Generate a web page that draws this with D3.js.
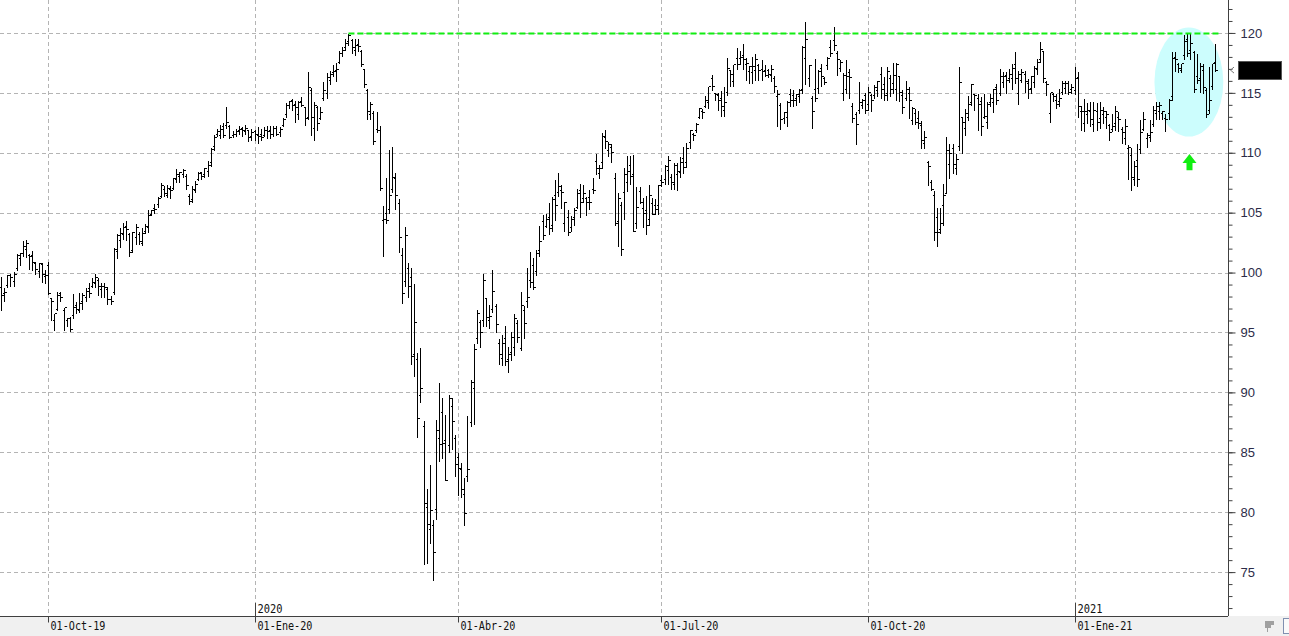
<!DOCTYPE html>
<html>
<head>
<meta charset="utf-8">
<script src="https://cdn.jsdelivr.net/npm/d3@7"></script>
<style>
  html, body { margin: 0; padding: 0; background: #fff; }
  svg { display: block; }
</style>
</head>
<body>
<div id="chart"></div>
<script>
// daily OHLC bars, one per weekday, first bar on 10-Sep-2019
var firstDay = "2019-09-10";

var opens = [
  98.8, 98.3, 99.0, 99.8, 99.3, 100.4, 101.2, 101.6, 102.0, 101.5,
  101.5, 100.8, 100.1, 100.7, 99.7, 100.6, 97.9, 96.0, 97.0, 98.3,
  96.9, 96.0, 96.2, 96.5, 97.3, 96.9, 97.6, 98.0, 98.7, 98.9,
  99.1, 99.4, 98.6, 98.9, 98.6, 97.8, 98.4, 101.8, 102.7, 103.2,
  103.9, 103.2, 101.9, 103.0, 103.2, 102.5, 103.5, 103.8, 104.9, 105.4,
  105.7, 106.4, 107.0, 106.5, 107.0, 107.1, 107.8, 108.1, 108.2, 108.1,
  106.4, 106.1, 106.9, 107.8, 108.4, 108.2, 108.5, 109.2, 110.6, 111.6,
  111.5, 112.2, 112.3, 112.2, 111.5, 111.6, 111.9, 112.1, 111.8, 111.9,
  111.4, 111.8, 111.5, 111.6, 111.5, 111.9, 111.9, 111.6, 112.1, 111.7,
  112.3, 113.2, 114.0, 114.4, 114.1, 113.2, 114.3, 113.8, 113.0, 115.2,
  112.1, 113.8, 112.9, 114.6, 115.0, 116.1, 116.7, 116.9, 117.6, 118.3,
  118.8, 119.3, 119.4, 118.6, 119.1, 118.5, 117.0, 115.2, 113.2, 113.3,
  112.0, 111.9, 104.4, 105.0, 105.3, 107.0, 107.9, 105.8, 101.5, 99.3,
  100.4, 99.6, 93.2, 92.8, 89.8, 87.2, 80.4, 78.6, 78.9, 80.3,
  86.2, 88.4, 86.0, 85.6, 88.9, 86.2, 84.6, 83.6, 81.5, 83.0,
  87.5, 90.4, 94.5, 95.9, 96.0, 97.9, 96.0, 97.0, 97.2, 94.1,
  92.9, 94.5, 92.8, 93.4, 93.8, 95.8, 93.7, 96.9, 97.6, 99.4,
  100.6, 100.1, 101.9, 104.3, 103.9, 104.6, 104.0, 106.5, 106.7, 106.9,
  104.1, 104.6, 103.8, 104.6, 105.5, 106.9, 106.2, 106.2, 106.3, 107.0,
  109.3, 108.3, 109.2, 111.3, 110.2, 110.5, 107.9, 104.3, 105.6, 106.7,
  107.6, 109.0, 108.2, 104.1, 106.8, 105.4, 105.2, 104.5, 105.8, 105.6,
  105.6, 107.7, 107.8, 108.6, 108.0, 107.4, 108.2, 108.4, 109.6, 109.2,
  110.9, 111.6, 111.9, 113.0, 113.5, 113.9, 114.2, 116.2, 115.0, 114.8,
  114.6, 113.6, 115.1, 116.9, 116.0, 117.9, 117.9, 118.2, 117.4, 116.8,
  116.7, 116.9, 117.3, 117.0, 116.9, 116.9, 116.5, 116.2, 114.7, 114.0,
  112.9, 113.0, 114.9, 114.8, 114.6, 114.7, 115.3, 117.9, 116.2, 114.6,
  115.3, 115.4, 117.1, 116.2, 117.3, 118.8, 119.4, 118.3, 117.1, 115.0,
  115.3, 116.7, 113.9, 113.2, 113.6, 114.0, 114.8, 114.1, 114.8, 114.8,
  115.2, 116.6, 115.7, 115.0, 116.2, 115.8, 115.3, 116.4, 114.8, 114.6,
  115.0, 112.7, 113.3, 112.9, 112.3, 110.8, 109.2, 107.6, 106.5, 104.6,
  103.6, 105.6, 106.6, 109.1, 110.4, 108.7, 110.6, 113.0, 112.1, 113.0,
  114.2, 114.9, 114.6, 114.3, 113.0, 112.6, 114.2, 114.2, 115.5, 115.0,
  115.9, 116.5, 116.2, 116.2, 117.4, 115.0, 116.1, 116.6, 115.8, 115.4,
  115.9, 117.0, 117.8, 118.5, 115.9, 113.3, 114.9, 114.4, 114.3, 115.1,
  115.4, 115.8, 115.3, 115.2, 116.3, 113.5, 112.5, 113.2, 113.5, 112.4,
  113.5, 112.9, 113.2, 113.0, 112.3, 112.0, 112.5, 113.0, 112.0, 111.2,
  110.4, 109.8, 107.8, 109.4, 110.3, 112.0, 111.2, 111.3, 112.4, 113.3,
  113.5, 113.3, 112.9, 113.3, 114.7, 118.0, 117.4, 116.9, 118.2, 119.5,
  118.6, 118.4, 116.4, 116.2, 116.9, 115.2, 113.6, 115.6, 117.6
];

var highs = [
  99.7, 98.8, 99.9, 100.0, 100.1, 101.6, 101.7, 102.7, 102.8, 101.6,
  101.9, 101.0, 100.9, 100.9, 100.3, 101.0, 98.0, 96.6, 98.5, 98.5,
  97.1, 96.3, 96.4, 98.3, 97.6, 98.4, 98.4, 98.8, 99.2, 99.6,
  100.0, 99.6, 99.2, 99.2, 98.9, 98.1, 102.1, 103.3, 103.8, 104.2,
  104.4, 103.4, 103.5, 104.1, 103.5, 103.8, 104.1, 105.3, 105.3, 105.8,
  106.4, 107.6, 107.3, 107.4, 107.3, 108.0, 108.7, 108.5, 108.7, 108.3,
  106.6, 107.3, 107.7, 108.5, 108.5, 108.8, 109.4, 110.5, 111.6, 112.1,
  112.4, 112.6, 113.9, 112.4, 111.9, 112.1, 112.3, 112.2, 112.4, 112.0,
  112.1, 112.0, 112.2, 112.1, 112.2, 112.3, 112.3, 112.3, 112.3, 112.2,
  113.0, 114.2, 114.4, 114.6, 114.4, 114.4, 114.7, 113.9, 116.8, 115.5,
  114.3, 114.0, 113.9, 116.0, 116.7, 116.9, 117.4, 117.6, 118.6, 118.9,
  119.6, 120.0, 119.6, 119.6, 119.6, 118.7, 117.1, 115.4, 114.3, 113.6,
  113.5, 112.3, 105.6, 108.0, 110.3, 110.6, 108.4, 106.2, 102.1, 103.9,
  100.9, 100.5, 99.1, 93.4, 93.8, 87.7, 82.0, 84.0, 79.4, 87.8,
  90.9, 89.6, 88.2, 89.9, 89.6, 86.5, 85.0, 84.2, 82.9, 88.1,
  91.1, 94.1, 97.0, 96.1, 100.0, 98.0, 97.4, 100.3, 97.5, 94.5,
  94.9, 95.6, 93.9, 95.1, 96.6, 96.1, 98.5, 97.3, 100.5, 101.8,
  101.3, 102.0, 104.0, 104.9, 105.0, 105.9, 106.4, 107.8, 108.4, 107.4,
  106.0, 105.3, 104.8, 105.5, 107.1, 107.5, 107.4, 106.4, 107.0, 108.0,
  110.0, 109.1, 111.7, 112.0, 111.0, 110.8, 108.4, 106.7, 106.0, 108.8,
  109.8, 109.8, 109.9, 107.2, 107.2, 106.3, 106.5, 107.4, 106.3, 106.2,
  107.4, 108.2, 109.1, 109.8, 108.3, 109.2, 109.2, 109.7, 110.6, 110.9,
  112.0, 111.7, 112.6, 113.8, 113.7, 114.8, 115.6, 116.6, 115.1, 115.1,
  115.2, 115.6, 118.0, 117.0, 117.4, 118.8, 118.6, 119.2, 118.0, 117.3,
  118.1, 118.3, 117.5, 117.8, 117.4, 117.1, 117.4, 116.5, 115.3, 114.2,
  113.5, 114.4, 115.4, 115.3, 115.0, 115.4, 119.0, 121.0, 117.4, 114.8,
  117.9, 117.0, 117.5, 116.4, 118.1, 119.5, 120.6, 118.6, 117.8, 116.7,
  117.8, 117.1, 114.2, 113.5, 116.0, 114.6, 115.1, 115.6, 115.0, 115.7,
  116.1, 117.2, 116.4, 117.2, 116.6, 117.6, 117.6, 116.4, 115.3, 116.1,
  115.6, 113.9, 113.7, 113.6, 112.7, 111.9, 109.4, 107.8, 106.9, 105.5,
  105.5, 107.5, 111.4, 110.8, 110.8, 110.0, 117.2, 113.0, 113.7, 114.8,
  115.8, 115.0, 115.0, 114.7, 115.0, 114.3, 115.0, 115.4, 115.8, 117.1,
  116.8, 116.8, 117.1, 117.5, 118.5, 116.9, 117.1, 116.9, 116.2, 116.5,
  117.3, 117.9, 119.3, 118.6, 116.1, 115.1, 115.1, 115.0, 115.4, 116.1,
  116.1, 116.1, 115.8, 117.2, 116.8, 114.0, 114.6, 114.2, 114.3, 114.3,
  114.2, 114.3, 113.9, 113.6, 112.5, 113.3, 114.0, 113.5, 112.2, 112.9,
  110.7, 110.5, 109.4, 110.8, 112.8, 113.5, 111.7, 112.8, 114.0, 114.3,
  114.3, 113.6, 113.3, 114.6, 118.5, 118.5, 117.6, 117.5, 119.9, 120.0,
  120.0, 118.6, 118.3, 117.6, 117.5, 115.5, 117.2, 117.5, 119.2
];

var lows = [
  96.9, 97.6, 98.8, 98.9, 98.9, 100.2, 100.6, 101.4, 101.3, 100.3,
  100.2, 99.9, 99.6, 99.2, 99.1, 98.2, 96.0, 95.2, 96.9, 97.6,
  95.2, 95.5, 95.1, 96.2, 96.6, 96.7, 97.0, 97.6, 98.0, 98.8,
  98.8, 98.1, 98.0, 98.0, 97.4, 97.4, 98.2, 101.2, 102.1, 102.8,
  102.7, 101.4, 101.7, 102.4, 102.4, 102.3, 103.3, 103.4, 104.8, 105.0,
  105.5, 106.3, 106.4, 106.3, 106.2, 107.0, 107.6, 107.6, 108.0, 107.0,
  105.7, 105.9, 106.7, 107.7, 107.8, 108.0, 108.1, 108.9, 110.2, 111.4,
  111.2, 111.3, 112.1, 111.2, 111.3, 111.4, 111.6, 111.4, 111.6, 111.0,
  111.1, 111.1, 110.8, 111.1, 111.4, 111.2, 111.2, 111.4, 111.5, 111.4,
  112.2, 113.0, 113.7, 113.6, 112.6, 112.8, 113.9, 112.3, 112.8, 111.5,
  111.1, 111.9, 112.8, 114.4, 114.6, 115.7, 116.4, 116.0, 117.5, 118.1,
  118.6, 119.0, 118.3, 118.2, 118.5, 117.2, 115.5, 112.8, 112.8, 110.7,
  111.7, 106.9, 101.4, 104.1, 105.0, 106.7, 105.3, 101.7, 97.5, 98.9,
  98.0, 92.4, 91.4, 86.3, 89.2, 75.7, 75.8, 77.4, 74.3, 79.4,
  84.3, 84.5, 82.7, 85.0, 85.3, 83.0, 81.4, 81.3, 78.9, 82.6,
  87.2, 87.4, 94.1, 93.8, 95.5, 95.5, 95.4, 96.7, 95.0, 92.4,
  92.3, 92.3, 91.7, 92.7, 93.1, 94.2, 93.5, 94.5, 97.1, 98.8,
  98.6, 99.8, 101.4, 102.8, 103.8, 103.2, 103.5, 104.4, 106.4, 105.4,
  103.5, 103.1, 103.5, 104.0, 105.4, 104.6, 105.9, 104.8, 105.3, 106.6,
  108.2, 107.9, 108.7, 110.4, 109.7, 109.2, 104.0, 102.2, 101.5, 104.5,
  106.8, 107.4, 103.5, 103.7, 105.8, 103.8, 103.2, 104.0, 104.9, 104.9,
  104.9, 107.2, 107.4, 107.4, 107.0, 107.0, 106.9, 108.0, 108.3, 108.8,
  110.4, 111.1, 111.7, 112.9, 112.9, 113.8, 113.7, 115.2, 114.4, 113.6,
  113.1, 113.1, 114.8, 115.6, 115.6, 117.0, 117.4, 117.0, 116.1, 115.8,
  115.8, 116.1, 116.1, 116.1, 116.4, 116.3, 116.0, 115.1, 112.2, 112.0,
  112.5, 112.2, 113.9, 113.9, 114.0, 114.2, 115.0, 115.7, 115.6, 112.1,
  114.3, 115.0, 115.6, 115.7, 117.0, 118.1, 118.6, 116.5, 116.8, 114.4,
  115.0, 114.6, 112.6, 110.7, 113.3, 113.7, 113.3, 113.6, 113.5, 114.6,
  114.7, 114.6, 114.4, 114.4, 114.7, 115.0, 114.4, 114.3, 113.3, 114.4,
  112.9, 112.4, 112.4, 112.1, 110.4, 110.4, 107.3, 106.9, 102.7, 102.2,
  103.3, 104.0, 106.6, 107.9, 108.3, 108.2, 110.2, 110.0, 111.5, 112.7,
  114.0, 113.6, 111.9, 111.5, 112.9, 112.1, 113.9, 113.4, 114.1, 114.8,
  115.5, 115.0, 115.9, 115.3, 115.8, 114.1, 115.9, 115.1, 114.6, 115.0,
  115.5, 116.6, 117.6, 115.9, 114.8, 112.6, 114.3, 113.7, 113.9, 114.9,
  115.0, 114.9, 115.0, 114.9, 113.0, 111.9, 111.8, 112.5, 112.2, 111.8,
  111.9, 112.1, 112.5, 112.1, 111.1, 111.8, 111.9, 111.8, 110.8, 110.7,
  107.8, 106.9, 107.3, 107.2, 110.0, 111.9, 110.5, 111.0, 112.2, 112.8,
  112.8, 112.8, 111.8, 112.8, 114.4, 116.8, 116.7, 116.7, 117.8, 118.1,
  117.8, 115.1, 115.8, 115.1, 115.0, 113.0, 113.3, 115.3, 116.8
];

var closes = [
  98.1, 98.4, 99.8, 99.6, 99.9, 101.5, 101.6, 102.2, 102.5, 101.4,
  100.9, 100.3, 100.8, 99.9, 99.8, 98.3, 97.6, 96.6, 98.1, 98.0,
  97.1, 96.2, 95.3, 97.1, 97.0, 97.5, 98.1, 98.5, 98.3, 99.2,
  99.6, 98.9, 98.9, 98.8, 97.8, 97.6, 102.0, 103.1, 103.3, 103.8,
  103.6, 101.7, 103.4, 103.8, 102.6, 103.3, 103.9, 104.8, 105.2, 105.3,
  106.2, 107.3, 106.6, 107.1, 106.9, 107.9, 108.2, 108.4, 108.6, 107.3,
  106.0, 107.0, 107.4, 108.3, 108.1, 108.7, 109.0, 110.3, 111.3, 111.8,
  112.0, 111.5, 112.6, 111.3, 111.6, 111.8, 112.0, 111.9, 112.1, 111.3,
  111.7, 111.6, 111.4, 111.3, 111.9, 111.8, 111.6, 112.1, 111.6, 112.0,
  112.8, 114.0, 114.3, 114.0, 113.8, 114.2, 114.0, 112.9, 115.5, 113.0,
  114.0, 112.5, 113.4, 115.2, 116.3, 116.6, 116.8, 117.0, 118.3, 118.6,
  119.2, 119.8, 118.8, 119.0, 118.9, 117.4, 115.7, 113.5, 114.1, 111.0,
  111.9, 107.1, 104.5, 104.4, 106.5, 108.0, 106.5, 103.0, 98.3, 103.1,
  98.9, 93.0, 95.9, 87.9, 90.4, 80.8, 79.0, 80.2, 76.7, 86.9,
  85.7, 85.8, 82.7, 89.5, 87.6, 84.0, 83.7, 81.9, 79.9, 83.6,
  90.9, 93.6, 96.6, 95.0, 99.4, 96.3, 96.4, 98.5, 95.7, 93.2,
  94.1, 92.6, 93.2, 94.6, 96.2, 94.6, 97.3, 95.8, 98.0, 99.2,
  98.8, 101.6, 102.6, 103.1, 104.5, 103.7, 106.1, 105.6, 107.2, 106.7,
  105.9, 103.4, 104.5, 105.2, 106.6, 105.9, 106.6, 105.9, 105.9, 106.9,
  108.7, 108.7, 111.4, 111.0, 110.7, 110.1, 104.1, 106.2, 102.0, 108.2,
  108.5, 108.1, 103.5, 105.5, 105.9, 105.0, 104.0, 106.5, 104.9, 105.3,
  107.3, 107.6, 108.9, 109.4, 107.6, 109.0, 108.5, 109.2, 108.8, 110.4,
  111.9, 111.5, 112.4, 113.7, 113.4, 114.4, 115.6, 115.6, 114.9, 114.4,
  113.9, 114.2, 117.1, 116.6, 117.4, 117.4, 118.0, 117.8, 117.5, 117.2,
  117.2, 117.8, 116.9, 116.8, 116.5, 116.6, 117.0, 115.6, 114.9, 112.8,
  113.4, 114.2, 114.4, 114.4, 114.9, 115.2, 118.8, 119.5, 117.3, 113.5,
  114.6, 116.8, 116.4, 115.9, 117.9, 118.3, 119.0, 117.8, 117.6, 116.5,
  116.4, 116.3, 112.9, 112.4, 114.2, 114.4, 113.6, 115.1, 114.4, 115.5,
  116.0, 115.3, 114.8, 116.8, 115.3, 116.5, 117.4, 115.1, 113.8, 115.3,
  114.4, 113.7, 112.6, 112.5, 111.1, 111.3, 108.9, 107.0, 103.4, 103.4,
  104.1, 106.5, 110.2, 110.0, 109.1, 109.5, 115.9, 112.6, 113.3, 114.1,
  115.7, 114.8, 114.1, 112.2, 113.1, 114.1, 114.6, 115.3, 114.4, 116.4,
  116.4, 116.1, 116.6, 117.1, 116.2, 116.6, 116.7, 116.0, 115.3, 116.4,
  117.1, 117.6, 118.7, 116.2, 115.7, 115.1, 114.7, 114.1, 114.6, 115.8,
  115.8, 115.1, 115.5, 116.2, 113.9, 113.5, 113.5, 113.6, 112.8, 113.6,
  112.6, 113.6, 113.5, 113.2, 111.7, 112.2, 113.5, 112.8, 111.7, 112.2,
  110.5, 108.0, 108.9, 107.8, 111.7, 112.8, 111.5, 111.7, 113.6, 113.9,
  114.0, 113.5, 112.8, 114.4, 117.9, 117.8, 117.1, 117.5, 119.3, 118.3,
  119.2, 115.3, 116.1, 117.2, 115.5, 113.2, 114.4, 117.5, 116.9
];

// price axis labels and the drawn annotations
var priceTicks = [75, 80, 85, 90, 95, 100, 105, 110, 115, 120];
var monthNames = ["Ene", "Feb", "Mar", "Abr", "May", "Jun", "Jul", "Ago", "Sep", "Oct", "Nov", "Dic"];
var resistanceLevel = 119.95;
var resistanceFrom = 111, resistanceTo = 389.5;
var circleCenterBar = 379.5, circleCenterPrice = 115.9, circleHalfBars = 11, circleHalfPrice = 4.55;
var arrowBar = 379.7, arrowTip = 109.9, arrowNeck = 109.15, arrowBase = 108.55;

var N = Math.min(opens.length, highs.length, lows.length, closes.length);

// one date per weekday
var parseDay = d3.timeParse("%Y-%m-%d");
var dates = [];
var day = parseDay(firstDay);
while (dates.length < N) {
    if (day.getDay() !== 0 && day.getDay() !== 6) dates.push(day);
    day = d3.timeDay.offset(day, 1);
}

var width = 1289, height = 636;
var plotRight = 1228, plotBottom = 616;

var svg = d3.select("#chart")
    .append("svg")
    .attr("width", width)
    .attr("height", height);

svg.append("rect").attr("width", width).attr("height", height).attr("fill", "#fff");

var x = d3.scaleLinear().domain([-0.32, 392]).range([0, plotRight]);
var y = d3.scaleLinear().domain([71.42, 122.75]).range([615, 0]);

function px(v) { return Math.round(v) + 0.5; }

// quarter starts and year changes
var quarterIdx = [], yearIdx = [];
for (var i = 1; i < N; i++) {
    if (dates[i].getMonth() !== dates[i - 1].getMonth() && dates[i].getMonth() % 3 === 0) quarterIdx.push(i);
    if (dates[i].getFullYear() !== dates[i - 1].getFullYear()) yearIdx.push(i);
}
var fmtDay = d3.timeFormat("%d"), fmtYear = d3.timeFormat("%y");
function dateLabel(i) {
    var d = dates[i];
    return fmtDay(d) + "-" + monthNames[d.getMonth()] + "-" + fmtYear(d);
}

// bottom band
svg.append("rect")
    .attr("x", 0).attr("y", plotBottom)
    .attr("width", width).attr("height", height - plotBottom)
    .attr("fill", "#f0f0f0");

// grid
var grid = svg.append("g")
    .attr("stroke", "#b4b4b4")
    .attr("stroke-dasharray", "4,3")
    .attr("shape-rendering", "crispEdges");
grid.selectAll("line.h").data(priceTicks).join("line")
    .attr("class", "h")
    .attr("x1", 0).attr("x2", plotRight)
    .attr("y1", d => px(y(d))).attr("y2", d => px(y(d)));
grid.selectAll("line.v").data(quarterIdx).join("line")
    .attr("class", "v")
    .attr("x1", d => px(x(d))).attr("x2", d => px(x(d)))
    .attr("y1", 0).attr("y2", plotBottom);

// highlighted area
svg.append("ellipse")
    .attr("cx", x(circleCenterBar))
    .attr("cy", y(circleCenterPrice))
    .attr("rx", x(circleCenterBar + circleHalfBars) - x(circleCenterBar))
    .attr("ry", y(circleCenterPrice - circleHalfPrice) - y(circleCenterPrice))
    .attr("fill", "#ccfdfd");

// OHLC bars
svg.append("g")
    .attr("stroke", "#000")
    .attr("fill", "none")
    .attr("shape-rendering", "crispEdges")
    .selectAll("path")
    .data(d3.range(N))
    .join("path")
    .attr("d", function (i) {
        var cx = px(x(i));
        return "M" + cx + "," + px(y(highs[i])) + "V" + px(y(lows[i])) +
            "M" + (cx - 2) + "," + px(y(opens[i])) + "H" + cx +
            "M" + cx + "," + px(y(closes[i])) + "H" + (cx + 2);
    });

// resistance line
svg.append("line")
    .attr("x1", x(resistanceFrom)).attr("x2", x(resistanceTo))
    .attr("y1", y(resistanceLevel)).attr("y2", y(resistanceLevel))
    .attr("stroke", "#11ee11")
    .attr("stroke-width", 2)
    .attr("stroke-dasharray", "6,3");

// green arrow
var ax = x(arrowBar);
svg.append("path")
    .attr("d", "M" + ax + "," + y(arrowTip) +
        "L" + (ax + 7) + "," + y(arrowNeck) +
        "L" + (ax + 3) + "," + y(arrowNeck) +
        "L" + (ax + 3) + "," + y(arrowBase) +
        "L" + (ax - 3) + "," + y(arrowBase) +
        "L" + (ax - 3) + "," + y(arrowNeck) +
        "L" + (ax - 7) + "," + y(arrowNeck) + "Z")
    .attr("fill", "#11ee11");

// price axis
svg.append("line")
    .attr("x1", plotRight + 0.5).attr("x2", plotRight + 0.5)
    .attr("y1", 0).attr("y2", plotBottom)
    .attr("stroke", "#404040");

var minorAxis = svg.append("g")
    .attr("transform", "translate(" + (plotRight + 0.5) + ",0)")
    .call(d3.axisRight(y).tickValues(d3.range(72, 123)).tickSize(4).tickFormat(""));
minorAxis.select(".domain").remove();
minorAxis.selectAll("line").attr("stroke", "#404040");

var priceAxis = svg.append("g")
    .attr("transform", "translate(" + (plotRight + 0.5) + ",0)")
    .call(d3.axisRight(y).tickValues(priceTicks).tickSize(7).tickPadding(5));
priceAxis.select(".domain").remove();
priceAxis.selectAll("line").attr("stroke", "#404040");
priceAxis.selectAll("text")
    .attr("fill", "#2c2c48")
    .style("font-family", "'Liberation Sans', Arial, sans-serif")
    .style("font-size", "13px");

// last price box
var lastY = y(closes[N - 1]);
svg.append("rect")
    .attr("x", 1238.5).attr("y", Math.round(lastY) - 8.5)
    .attr("width", 43).attr("height", 18)
    .attr("fill", "#000").attr("stroke", "#555");
svg.append("path")
    .attr("d", "M1234," + (lastY - 3) + "L1230.5," + lastY + "L1234," + (lastY + 3))
    .attr("fill", "none").attr("stroke", "#777");

// date axis
var dateAxis = svg.append("g")
    .attr("transform", "translate(0," + (plotBottom + 0.5) + ")")
    .call(d3.axisBottom(x).tickValues(quarterIdx).tickSize(6).tickSizeOuter(0).tickFormat(dateLabel));
dateAxis.select(".domain").attr("stroke", "#404040").attr("d", "M0,0H" + plotRight);
dateAxis.selectAll(".tick").attr("transform", d => "translate(" + px(x(d)) + ",0)");
dateAxis.selectAll("line").attr("stroke", "#404040");
dateAxis.selectAll("text")
    .attr("x", 2).attr("y", 5)
    .attr("text-anchor", "start")
    .attr("fill", "#111")
    .attr("textLength", function (d) { return dateLabel(d).length * 6.1; })
    .attr("lengthAdjust", "spacingAndGlyphs")
    .style("font-family", "'DejaVu Sans Mono', monospace")
    .style("font-size", "12px");

// year marks
var years = svg.append("g");
years.selectAll("line").data(yearIdx).join("line")
    .attr("x1", d => px(x(d))).attr("x2", d => px(x(d)))
    .attr("y1", plotBottom - 13).attr("y2", plotBottom)
    .attr("stroke", "#404040");
years.selectAll("text").data(yearIdx).join("text")
    .attr("x", d => px(x(d)) + 2)
    .attr("y", plotBottom - 3)
    .attr("textLength", 25)
    .attr("lengthAdjust", "spacingAndGlyphs")
    .attr("fill", "#111")
    .style("font-family", "'DejaVu Sans Mono', monospace")
    .style("font-size", "12px")
    .text(d => dates[d].getFullYear());

// small window icons bottom right
svg.append("path")
    .attr("d", "M1265,621h9v4h-3v3h-3v4h-1v-4h-2z")
    .attr("fill", "#a0a0a0");
svg.append("rect")
    .attr("x", 1283.5).attr("y", 618.5).attr("width", 9).attr("height", 15)
    .attr("fill", "#fafafa").attr("stroke", "#8090b0");
</script>
</body>
</html>
